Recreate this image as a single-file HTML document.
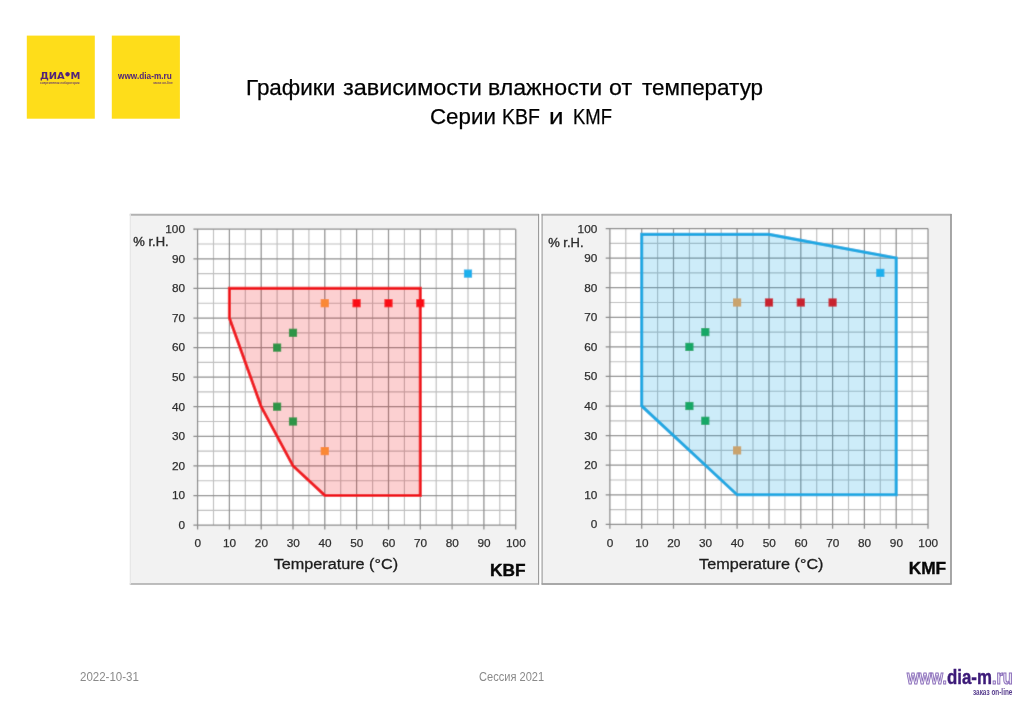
<!DOCTYPE html>
<html lang="ru">
<head>
<meta charset="utf-8">
<title>Графики зависимости влажности от температур</title>
<style>
html,body{margin:0;padding:0;background:#fff;}
body{width:1024px;height:709px;position:relative;overflow:hidden;font-family:"Liberation Sans",sans-serif;}
.abs{position:absolute;white-space:nowrap;transform-origin:0 0;line-height:1;}
.ybox{position:absolute;top:35.6px;width:67.5px;height:82.8px;background:#fedd1b;}
#charts{position:absolute;left:0;top:0;}
#charts text{font-family:"Liberation Sans",sans-serif;fill:#303030;}
#charts .tk{font-size:11.8px;stroke:#303030;stroke-width:0.25px;}
#charts .rh{font-size:12.9px;fill:#2c2c2c;stroke:#2c2c2c;stroke-width:0.35px;}
#charts .ax{font-size:15.3px;fill:#1c1c1c;stroke:#1c1c1c;stroke-width:0.3px;}
#charts .nm{font-size:17.3px;font-weight:bold;fill:#080808;stroke:#080808;stroke-width:0.4px;}
.tw{font-size:22.6px;color:#000;-webkit-text-stroke:0.25px #000;}
.ft{font-size:11.9px;color:#8a8a8a;top:672px;}
.purple{color:#52237a;}
.dj{font-family:"DejaVu Sans","Liberation Sans",sans-serif;}
.ol{color:#ece6f5;-webkit-text-stroke:1.1px #8a6dba;}
</style>
</head>
<body>
<svg id="charts" width="1024" height="709" viewBox="0 0 1024 709">
<defs><filter id="soft" x="0" y="0" width="1024" height="709" filterUnits="userSpaceOnUse"><feConvolveMatrix order="3" kernelMatrix="0.02 0.07 0.02 0.07 0.64 0.07 0.02 0.07 0.02" edgeMode="duplicate" preserveAlpha="false"/></filter></defs>
<g>
<rect x="26.8" y="35.6" width="68" height="83.1" fill="#fedd1a"/>
<rect x="111.8" y="35.6" width="68.1" height="83.1" fill="#fedd1a"/>
<rect x="130.3" y="214.6" width="408.3" height="369.4" fill="#f2f2f2"/>
<line x1="129.8" y1="214.7" x2="539.1" y2="214.7" stroke="#b2b2b2" stroke-width="2"/>
<line x1="129.8" y1="584" x2="539.1" y2="584" stroke="#a8a8a8" stroke-width="1.3"/>
<line x1="538.6" y1="214" x2="538.6" y2="584.5" stroke="#989898" stroke-width="1.1"/>
<line x1="130.3" y1="214" x2="130.3" y2="584.5" stroke="#e6e6e6" stroke-width="1.2"/>
<rect x="542.1" y="214.6" width="408.9" height="369.4" fill="#f2f2f2"/>
<line x1="541.6" y1="214.7" x2="951.5" y2="214.7" stroke="#b2b2b2" stroke-width="2"/>
<line x1="541.6" y1="584" x2="951.5" y2="584" stroke="#a8a8a8" stroke-width="1.8"/>
<line x1="951.0" y1="214" x2="951.0" y2="584.5" stroke="#989898" stroke-width="1.7"/>
<line x1="542.1" y1="214" x2="542.1" y2="584.5" stroke="#a0a0a0" stroke-width="1.2"/>
</g>
<g filter="url(#soft)">
<rect x="197.6" y="229.2" width="318.1" height="295.90000000000003" fill="#ffffff"/>
<line x1="213.5" y1="525.1" x2="213.5" y2="229.2" stroke="#bebebe" stroke-width="1.15"/>
<line x1="197.6" y1="510.3" x2="515.7" y2="510.3" stroke="#bebebe" stroke-width="1.15"/>
<line x1="245.3" y1="525.1" x2="245.3" y2="229.2" stroke="#bebebe" stroke-width="1.15"/>
<line x1="197.6" y1="480.7" x2="515.7" y2="480.7" stroke="#bebebe" stroke-width="1.15"/>
<line x1="277.1" y1="525.1" x2="277.1" y2="229.2" stroke="#bebebe" stroke-width="1.15"/>
<line x1="197.6" y1="451.1" x2="515.7" y2="451.1" stroke="#bebebe" stroke-width="1.15"/>
<line x1="308.9" y1="525.1" x2="308.9" y2="229.2" stroke="#bebebe" stroke-width="1.15"/>
<line x1="197.6" y1="421.5" x2="515.7" y2="421.5" stroke="#bebebe" stroke-width="1.15"/>
<line x1="340.7" y1="525.1" x2="340.7" y2="229.2" stroke="#bebebe" stroke-width="1.15"/>
<line x1="197.6" y1="391.9" x2="515.7" y2="391.9" stroke="#bebebe" stroke-width="1.15"/>
<line x1="372.6" y1="525.1" x2="372.6" y2="229.2" stroke="#bebebe" stroke-width="1.15"/>
<line x1="197.6" y1="362.4" x2="515.7" y2="362.4" stroke="#bebebe" stroke-width="1.15"/>
<line x1="404.4" y1="525.1" x2="404.4" y2="229.2" stroke="#bebebe" stroke-width="1.15"/>
<line x1="197.6" y1="332.8" x2="515.7" y2="332.8" stroke="#bebebe" stroke-width="1.15"/>
<line x1="436.2" y1="525.1" x2="436.2" y2="229.2" stroke="#bebebe" stroke-width="1.15"/>
<line x1="197.6" y1="303.2" x2="515.7" y2="303.2" stroke="#bebebe" stroke-width="1.15"/>
<line x1="468.0" y1="525.1" x2="468.0" y2="229.2" stroke="#bebebe" stroke-width="1.15"/>
<line x1="197.6" y1="273.6" x2="515.7" y2="273.6" stroke="#bebebe" stroke-width="1.15"/>
<line x1="499.8" y1="525.1" x2="499.8" y2="229.2" stroke="#bebebe" stroke-width="1.15"/>
<line x1="197.6" y1="244.0" x2="515.7" y2="244.0" stroke="#bebebe" stroke-width="1.15"/>
<line x1="197.6" y1="529.5" x2="197.6" y2="229.2" stroke="#8c8c8c" stroke-width="1.25"/>
<line x1="193.4" y1="525.1" x2="515.7" y2="525.1" stroke="#8c8c8c" stroke-width="1.25"/>
<line x1="229.4" y1="529.5" x2="229.4" y2="229.2" stroke="#8c8c8c" stroke-width="1.25"/>
<line x1="193.4" y1="495.5" x2="515.7" y2="495.5" stroke="#8c8c8c" stroke-width="1.25"/>
<line x1="261.2" y1="529.5" x2="261.2" y2="229.2" stroke="#8c8c8c" stroke-width="1.25"/>
<line x1="193.4" y1="465.9" x2="515.7" y2="465.9" stroke="#8c8c8c" stroke-width="1.25"/>
<line x1="293.0" y1="529.5" x2="293.0" y2="229.2" stroke="#8c8c8c" stroke-width="1.25"/>
<line x1="193.4" y1="436.3" x2="515.7" y2="436.3" stroke="#8c8c8c" stroke-width="1.25"/>
<line x1="324.8" y1="529.5" x2="324.8" y2="229.2" stroke="#8c8c8c" stroke-width="1.25"/>
<line x1="193.4" y1="406.7" x2="515.7" y2="406.7" stroke="#8c8c8c" stroke-width="1.25"/>
<line x1="356.6" y1="529.5" x2="356.6" y2="229.2" stroke="#8c8c8c" stroke-width="1.25"/>
<line x1="193.4" y1="377.1" x2="515.7" y2="377.1" stroke="#8c8c8c" stroke-width="1.25"/>
<line x1="388.5" y1="529.5" x2="388.5" y2="229.2" stroke="#8c8c8c" stroke-width="1.25"/>
<line x1="193.4" y1="347.6" x2="515.7" y2="347.6" stroke="#8c8c8c" stroke-width="1.25"/>
<line x1="420.3" y1="529.5" x2="420.3" y2="229.2" stroke="#8c8c8c" stroke-width="1.25"/>
<line x1="193.4" y1="318.0" x2="515.7" y2="318.0" stroke="#8c8c8c" stroke-width="1.25"/>
<line x1="452.1" y1="529.5" x2="452.1" y2="229.2" stroke="#8c8c8c" stroke-width="1.25"/>
<line x1="193.4" y1="288.4" x2="515.7" y2="288.4" stroke="#8c8c8c" stroke-width="1.25"/>
<line x1="483.9" y1="529.5" x2="483.9" y2="229.2" stroke="#8c8c8c" stroke-width="1.25"/>
<line x1="193.4" y1="258.8" x2="515.7" y2="258.8" stroke="#8c8c8c" stroke-width="1.25"/>
<line x1="515.7" y1="529.5" x2="515.7" y2="229.2" stroke="#8c8c8c" stroke-width="1.25"/>
<line x1="193.4" y1="229.2" x2="515.7" y2="229.2" stroke="#8c8c8c" stroke-width="1.25"/>
<polygon points="229.4,288.4 420.3,288.4 420.3,495.5 324.8,495.5 293.0,465.9 261.2,406.7 229.4,318.0" fill="rgba(240,20,26,0.2)"/>
<polygon points="229.4,288.4 420.3,288.4 420.3,495.5 324.8,495.5 293.0,465.9 261.2,406.7 229.4,318.0" fill="none" stroke="#f0141a" stroke-width="3.1" stroke-linejoin="miter"/>
<rect x="273.0" y="343.5" width="8.2" height="8.2" fill="#2e9447"/>
<rect x="288.9" y="328.7" width="8.2" height="8.2" fill="#2e9447"/>
<rect x="273.0" y="402.6" width="8.2" height="8.2" fill="#2e9447"/>
<rect x="288.9" y="417.4" width="8.2" height="8.2" fill="#2e9447"/>
<rect x="320.7" y="299.1" width="8.2" height="8.2" fill="#fa8836"/>
<rect x="320.7" y="447.0" width="8.2" height="8.2" fill="#fa8836"/>
<rect x="352.5" y="299.1" width="8.2" height="8.2" fill="#fa0e14"/>
<rect x="384.4" y="299.1" width="8.2" height="8.2" fill="#fa0e14"/>
<rect x="416.2" y="299.1" width="8.2" height="8.2" fill="#fa0e14"/>
<rect x="463.9" y="269.5" width="8.2" height="8.2" fill="#1cb0ec"/>
<rect x="609.9" y="228.49999999999994" width="318.1" height="295.90000000000003" fill="#ffffff"/>
<line x1="625.8" y1="524.4" x2="625.8" y2="228.49999999999994" stroke="#bebebe" stroke-width="1.15"/>
<line x1="609.9" y1="509.6" x2="928.0" y2="509.6" stroke="#bebebe" stroke-width="1.15"/>
<line x1="657.6" y1="524.4" x2="657.6" y2="228.49999999999994" stroke="#bebebe" stroke-width="1.15"/>
<line x1="609.9" y1="480.0" x2="928.0" y2="480.0" stroke="#bebebe" stroke-width="1.15"/>
<line x1="689.4" y1="524.4" x2="689.4" y2="228.49999999999994" stroke="#bebebe" stroke-width="1.15"/>
<line x1="609.9" y1="450.4" x2="928.0" y2="450.4" stroke="#bebebe" stroke-width="1.15"/>
<line x1="721.2" y1="524.4" x2="721.2" y2="228.49999999999994" stroke="#bebebe" stroke-width="1.15"/>
<line x1="609.9" y1="420.8" x2="928.0" y2="420.8" stroke="#bebebe" stroke-width="1.15"/>
<line x1="753.0" y1="524.4" x2="753.0" y2="228.49999999999994" stroke="#bebebe" stroke-width="1.15"/>
<line x1="609.9" y1="391.2" x2="928.0" y2="391.2" stroke="#bebebe" stroke-width="1.15"/>
<line x1="784.9" y1="524.4" x2="784.9" y2="228.49999999999994" stroke="#bebebe" stroke-width="1.15"/>
<line x1="609.9" y1="361.7" x2="928.0" y2="361.7" stroke="#bebebe" stroke-width="1.15"/>
<line x1="816.7" y1="524.4" x2="816.7" y2="228.49999999999994" stroke="#bebebe" stroke-width="1.15"/>
<line x1="609.9" y1="332.1" x2="928.0" y2="332.1" stroke="#bebebe" stroke-width="1.15"/>
<line x1="848.5" y1="524.4" x2="848.5" y2="228.49999999999994" stroke="#bebebe" stroke-width="1.15"/>
<line x1="609.9" y1="302.5" x2="928.0" y2="302.5" stroke="#bebebe" stroke-width="1.15"/>
<line x1="880.3" y1="524.4" x2="880.3" y2="228.49999999999994" stroke="#bebebe" stroke-width="1.15"/>
<line x1="609.9" y1="272.9" x2="928.0" y2="272.9" stroke="#bebebe" stroke-width="1.15"/>
<line x1="912.1" y1="524.4" x2="912.1" y2="228.49999999999994" stroke="#bebebe" stroke-width="1.15"/>
<line x1="609.9" y1="243.3" x2="928.0" y2="243.3" stroke="#bebebe" stroke-width="1.15"/>
<line x1="609.9" y1="528.8" x2="609.9" y2="228.49999999999994" stroke="#8c8c8c" stroke-width="1.25"/>
<line x1="605.6999999999999" y1="524.4" x2="928.0" y2="524.4" stroke="#8c8c8c" stroke-width="1.25"/>
<line x1="641.7" y1="528.8" x2="641.7" y2="228.49999999999994" stroke="#8c8c8c" stroke-width="1.25"/>
<line x1="605.6999999999999" y1="494.8" x2="928.0" y2="494.8" stroke="#8c8c8c" stroke-width="1.25"/>
<line x1="673.5" y1="528.8" x2="673.5" y2="228.49999999999994" stroke="#8c8c8c" stroke-width="1.25"/>
<line x1="605.6999999999999" y1="465.2" x2="928.0" y2="465.2" stroke="#8c8c8c" stroke-width="1.25"/>
<line x1="705.3" y1="528.8" x2="705.3" y2="228.49999999999994" stroke="#8c8c8c" stroke-width="1.25"/>
<line x1="605.6999999999999" y1="435.6" x2="928.0" y2="435.6" stroke="#8c8c8c" stroke-width="1.25"/>
<line x1="737.1" y1="528.8" x2="737.1" y2="228.49999999999994" stroke="#8c8c8c" stroke-width="1.25"/>
<line x1="605.6999999999999" y1="406.0" x2="928.0" y2="406.0" stroke="#8c8c8c" stroke-width="1.25"/>
<line x1="769.0" y1="528.8" x2="769.0" y2="228.49999999999994" stroke="#8c8c8c" stroke-width="1.25"/>
<line x1="605.6999999999999" y1="376.4" x2="928.0" y2="376.4" stroke="#8c8c8c" stroke-width="1.25"/>
<line x1="800.8" y1="528.8" x2="800.8" y2="228.49999999999994" stroke="#8c8c8c" stroke-width="1.25"/>
<line x1="605.6999999999999" y1="346.9" x2="928.0" y2="346.9" stroke="#8c8c8c" stroke-width="1.25"/>
<line x1="832.6" y1="528.8" x2="832.6" y2="228.49999999999994" stroke="#8c8c8c" stroke-width="1.25"/>
<line x1="605.6999999999999" y1="317.3" x2="928.0" y2="317.3" stroke="#8c8c8c" stroke-width="1.25"/>
<line x1="864.4" y1="528.8" x2="864.4" y2="228.49999999999994" stroke="#8c8c8c" stroke-width="1.25"/>
<line x1="605.6999999999999" y1="287.7" x2="928.0" y2="287.7" stroke="#8c8c8c" stroke-width="1.25"/>
<line x1="896.2" y1="528.8" x2="896.2" y2="228.49999999999994" stroke="#8c8c8c" stroke-width="1.25"/>
<line x1="605.6999999999999" y1="258.1" x2="928.0" y2="258.1" stroke="#8c8c8c" stroke-width="1.25"/>
<line x1="928.0" y1="528.8" x2="928.0" y2="228.49999999999994" stroke="#8c8c8c" stroke-width="1.25"/>
<line x1="605.6999999999999" y1="228.5" x2="928.0" y2="228.5" stroke="#8c8c8c" stroke-width="1.25"/>
<polygon points="641.7,234.4 769.0,234.4 896.2,258.1 896.2,494.8 737.1,494.8 641.7,406.0" fill="rgba(27,168,226,0.22)"/>
<polygon points="641.7,234.4 769.0,234.4 896.2,258.1 896.2,494.8 737.1,494.8 641.7,406.0" fill="none" stroke="#1ba8e2" stroke-width="3.1" stroke-linejoin="miter"/>
<rect x="685.3" y="342.8" width="8.2" height="8.2" fill="#12a766"/>
<rect x="701.2" y="328.0" width="8.2" height="8.2" fill="#12a766"/>
<rect x="685.3" y="401.9" width="8.2" height="8.2" fill="#12a766"/>
<rect x="701.2" y="416.7" width="8.2" height="8.2" fill="#12a766"/>
<rect x="733.0" y="298.4" width="8.2" height="8.2" fill="#c9a36d"/>
<rect x="733.0" y="446.3" width="8.2" height="8.2" fill="#c9a36d"/>
<rect x="764.9" y="298.4" width="8.2" height="8.2" fill="#c8202e"/>
<rect x="796.7" y="298.4" width="8.2" height="8.2" fill="#c8202e"/>
<rect x="828.5" y="298.4" width="8.2" height="8.2" fill="#c8202e"/>
<rect x="876.2" y="268.8" width="8.2" height="8.2" fill="#1cb0ec"/>
</g>
<g>
<text class="tk" x="197.8" y="547.1" text-anchor="middle">0</text>
<text class="tk" x="185.0" y="528.9" text-anchor="end">0</text>
<text class="tk" x="229.6" y="547.1" text-anchor="middle">10</text>
<text class="tk" x="185.0" y="499.3" text-anchor="end">10</text>
<text class="tk" x="261.4" y="547.1" text-anchor="middle">20</text>
<text class="tk" x="185.0" y="469.7" text-anchor="end">20</text>
<text class="tk" x="293.2" y="547.1" text-anchor="middle">30</text>
<text class="tk" x="185.0" y="440.1" text-anchor="end">30</text>
<text class="tk" x="325.0" y="547.1" text-anchor="middle">40</text>
<text class="tk" x="185.0" y="410.5" text-anchor="end">40</text>
<text class="tk" x="356.8" y="547.1" text-anchor="middle">50</text>
<text class="tk" x="185.0" y="380.9" text-anchor="end">50</text>
<text class="tk" x="388.7" y="547.1" text-anchor="middle">60</text>
<text class="tk" x="185.0" y="351.4" text-anchor="end">60</text>
<text class="tk" x="420.5" y="547.1" text-anchor="middle">70</text>
<text class="tk" x="185.0" y="321.8" text-anchor="end">70</text>
<text class="tk" x="452.3" y="547.1" text-anchor="middle">80</text>
<text class="tk" x="185.0" y="292.2" text-anchor="end">80</text>
<text class="tk" x="484.1" y="547.1" text-anchor="middle">90</text>
<text class="tk" x="185.0" y="262.6" text-anchor="end">90</text>
<text class="tk" x="515.9" y="547.1" text-anchor="middle">100</text>
<text class="tk" x="185.0" y="233.0" text-anchor="end">100</text>
<text class="rh" x="133.3" y="245.6" textLength="35.4" lengthAdjust="spacingAndGlyphs">% r.H.</text>
<text class="ax" x="273.7" y="569.4" textLength="124.4" lengthAdjust="spacingAndGlyphs">Temperature (°C)</text>
<text class="nm" x="525.5" y="576.3" text-anchor="end">KBF</text>
<text class="tk" x="610.1" y="546.5" text-anchor="middle">0</text>
<text class="tk" x="597.3" y="528.4" text-anchor="end">0</text>
<text class="tk" x="641.9" y="546.5" text-anchor="middle">10</text>
<text class="tk" x="597.3" y="498.8" text-anchor="end">10</text>
<text class="tk" x="673.7" y="546.5" text-anchor="middle">20</text>
<text class="tk" x="597.3" y="469.2" text-anchor="end">20</text>
<text class="tk" x="705.5" y="546.5" text-anchor="middle">30</text>
<text class="tk" x="597.3" y="439.6" text-anchor="end">30</text>
<text class="tk" x="737.3" y="546.5" text-anchor="middle">40</text>
<text class="tk" x="597.3" y="410.0" text-anchor="end">40</text>
<text class="tk" x="769.2" y="546.5" text-anchor="middle">50</text>
<text class="tk" x="597.3" y="380.4" text-anchor="end">50</text>
<text class="tk" x="801.0" y="546.5" text-anchor="middle">60</text>
<text class="tk" x="597.3" y="350.9" text-anchor="end">60</text>
<text class="tk" x="832.8" y="546.5" text-anchor="middle">70</text>
<text class="tk" x="597.3" y="321.3" text-anchor="end">70</text>
<text class="tk" x="864.6" y="546.5" text-anchor="middle">80</text>
<text class="tk" x="597.3" y="291.7" text-anchor="end">80</text>
<text class="tk" x="896.4" y="546.5" text-anchor="middle">90</text>
<text class="tk" x="597.3" y="262.1" text-anchor="end">90</text>
<text class="tk" x="928.2" y="546.5" text-anchor="middle">100</text>
<text class="tk" x="597.3" y="232.5" text-anchor="end">100</text>
<text class="rh" x="548.2" y="247.4" textLength="35.4" lengthAdjust="spacingAndGlyphs">% r.H.</text>
<text class="ax" x="699.1" y="569.4" textLength="124.4" lengthAdjust="spacingAndGlyphs">Temperature (°C)</text>
<text class="nm" x="946.1" y="573.9" text-anchor="end">KMF</text>
</g>
</svg>
<div class="abs purple dj" id="l1" style="left:39.6px;top:71.5px;font-size:9px;font-weight:bold;transform:scaleX(1.1)">ДИА<span style="font-size:11.5px;line-height:0;position:relative;top:0.95px;margin:0 -0.9px 0 -1.2px">•</span>М</div>
<div class="abs purple" id="l1s" style="left:40px;top:81.9px;font-size:3.4px;font-weight:bold;opacity:0.8;transform:scaleX(0.875)">современная лаборатория</div>
<div class="abs purple" id="l2" style="left:118.1px;top:70.9px;font-size:9.8px;font-weight:bold;transform:scaleX(0.842)">www.dia-m.ru</div>
<div class="abs purple" id="l2s" style="left:152.6px;top:81.9px;font-size:3.4px;font-weight:bold;opacity:0.8;transform:scaleX(0.95)">заказ on-line</div>
<div id="t1"><span class="abs tw" style="left:245.7px;top:77.3px;transform:scaleX(0.993)">Графики</span> <span class="abs tw" style="left:342.7px;top:77.3px;transform:scaleX(1.038)">зависимости</span> <span class="abs tw" style="left:487.8px;top:77.3px;transform:scaleX(1.023)">влажности</span> <span class="abs tw" style="left:609.2px;top:77.3px;transform:scaleX(1.029)">от</span> <span class="abs tw" style="left:642.4px;top:77.3px;transform:scaleX(0.994)">температур</span></div>
<div id="t2"><span class="abs tw" style="left:429.7px;top:105.7px;transform:scaleX(0.988)">Серии</span> <span class="abs tw" style="left:501.8px;top:105.7px;transform:scaleX(0.863)">KBF</span> <span class="abs tw" style="left:549.2px;top:105.7px;transform:scaleX(1.15)">и</span> <span class="abs tw" style="left:573.2px;top:105.7px;transform:scaleX(0.816)">KMF</span></div>
<div class="abs ft" id="f1" style="left:80.1px;transform:scaleX(0.968)">2022-10-31</div>
<div class="abs ft" id="f2" style="left:479.2px;transform:scaleX(0.931)">Сессия 2021</div>
<div class="abs ol" id="lg1" style="left:907px;top:667px;font-size:20.4px;font-weight:bold;transform:scaleX(0.76)">www.</div>
<div class="abs" id="lg2" style="left:946.8px;top:667px;font-size:20.4px;font-weight:bold;color:#3c1a78;-webkit-text-stroke:0.4px #3c1a78;transform:scaleX(0.825)">dia-m</div>
<div class="abs ol" id="lg3" style="left:992.2px;top:667px;font-size:20.4px;font-weight:bold;transform:scaleX(0.795)">.ru</div>
<div class="abs" id="lgs" style="left:972.8px;top:688.2px;font-size:8.3px;font-weight:bold;color:#553a8c;transform:scaleX(0.77)">заказ on-line</div>
</body>
</html>
